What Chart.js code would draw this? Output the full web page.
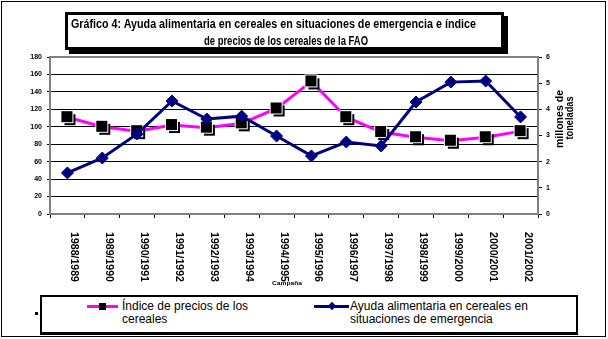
<!DOCTYPE html>
<html lang="es">
<head>
<meta charset="utf-8">
<script src="https://cdn.jsdelivr.net/npm/chart.js@4.4.0/dist/chart.umd.min.js"></script>
<style>
body { margin: 0; background: #fff; }
#wrap { position: relative; width: 608px; height: 339px; overflow: hidden; font-family: "Liberation Sans", Arial, sans-serif; color: #000; }
#myChart { position: absolute; left: 0; top: 0; }
#frame { position: absolute; left: 1px; top: 1px; width: 605px; height: 336px; border: 1px solid #000; box-sizing: border-box; }
#titleBox { position: absolute; left: 65px; top: 12px; width: 439px; height: 38px; border: 3px solid #000; box-sizing: border-box; box-shadow: 4px 4px 0 #000; background: #fff; }
.tl { position: absolute; white-space: nowrap; font-weight: bold; font-size: 12px; line-height: 14px; transform-origin: left center; }
#legendBox { position: absolute; left: 40px; top: 295px; width: 538px; height: 40px; border: 2px solid #000; border-bottom-width: 3px; box-sizing: border-box; background: #fff; }
.lg { position: absolute; font-size: 12px; line-height: 13px; white-space: nowrap; }
.key { position: absolute; }
</style>
</head>
<body>
<div id="wrap">
  <canvas id="myChart" width="608" height="339"></canvas>
  <div id="frame"></div>
  <div id="titleBox"></div>
  <div class="tl" style="left:71px; top:17px;" data-w="405">Gráfico 4: Ayuda alimentaria en cereales en situaciones de emergencia e índice</div>
  <div class="tl" style="left:204px; top:34px;" data-w="164">de precios de los cereales de la FAO</div>
  <div class="key" style="left:35px; top:312px; width:3px; height:3px; background:#000;"></div>
  <div id="legendBox"></div>
  <div class="key" style="left:87px; top:305px; width:31px; height:3px; background:#ff00ff;"></div>
  <div class="key" style="left:99px; top:303px; width:7px; height:7px; background:#000;"></div>
  <div class="lg" style="left:122px; top:300px;">Índice de precios de los<br>cereales</div>
  <div class="key" style="left:314px; top:305px; width:35px; height:3px; background:#000080;"></div>
  <div class="key" style="left:329px; top:303px; width:6px; height:6px; background:#000080; transform:rotate(45deg);"></div>
  <div class="lg" style="left:350px; top:300px;">Ayuda alimentaria en cereales en<br>situaciones de emergencia</div>
</div>
<script>
const ctx = document.getElementById('myChart');

// campañas (eje x)
const seasons = ['1988/1989', '1989/1990', '1990/1991', '1991/1992', '1992/1993', '1993/1994', '1994/1995',
                 '1995/1996', '1996/1997', '1997/1998', '1998/1999', '1999/2000', '2000/2001', '2001/2002'];

// Índice de precios de los cereales (eje izquierdo)
const precios = [111, 100, 95, 102, 99, 104, 121, 152, 111, 94, 88, 84, 88, 95];

// Ayuda alimentaria en cereales, millones de toneladas (eje derecho)
const ayuda = [1.57, 2.14, 3.06, 4.32, 3.63, 3.74, 2.98, 2.22, 2.75, 2.6, 4.28, 5.04, 5.08, 3.71];

const axisTitle = ['millones de', 'toneladas'];
const xTitle = 'Campaña';

// stretch the title lines to the width they have in the picture
document.querySelectorAll('.tl').forEach(function(el) {
    const w = el.getBoundingClientRect().width;
    el.style.transform = 'scaleX(' + (parseFloat(el.dataset.w) / w) + ')';
});

// square marker with a little drop shadow
function squareMarker() {
    const c = document.createElement('canvas');
    c.width = 22; c.height = 22;
    const g = c.getContext('2d');
    g.fillStyle = '#000';
    g.fillRect(8, 8, 11, 11);
    g.fillStyle = '#fff';
    g.fillRect(4, 4, 13, 13);
    g.fillStyle = '#000';
    g.fillRect(5, 5, 11, 11);
    return c;
}

function fitText(g, text, x, y, w) {
    const m = g.measureText(text).width;
    g.save();
    g.translate(x, y);
    g.scale(w / m, 1);
    g.fillText(text, 0, 0);
    g.restore();
}

const extras = {
    id: 'extras',
    afterDraw(chart) {
        const g = chart.ctx;
        const a = chart.chartArea;
        const x = chart.scales.x;
        g.save();
        // grey top edge of the plot area
        g.strokeStyle = '#808080';
        g.lineWidth = 2;
        g.beginPath();
        g.moveTo(a.left - 1, a.top);
        g.lineTo(a.right + 1, a.top);
        g.stroke();

        g.fillStyle = '#000';
        g.textBaseline = 'middle';
        // x labels, read top to bottom
        g.font = 'bold 11px "Liberation Sans"';
        g.textAlign = 'left';
        seasons.forEach(function(s, i) {
            const px = x.getPixelForValue(i) + 7;
            g.save();
            g.translate(px, a.bottom + 18);
            g.rotate(Math.PI / 2);
            fitText(g, s, 0, 0, 50);
            g.restore();
        });

        // right axis title, read bottom to top
        g.font = 'bold 11px "Liberation Sans"';
        g.textAlign = 'center';
        g.save();
        g.translate(560, 119);
        g.rotate(-Math.PI / 2);
        fitText(g, axisTitle[0], 0, 0, 58);
        g.restore();
        g.save();
        g.translate(570, 118);
        g.rotate(-Math.PI / 2);
        fitText(g, axisTitle[1], 0, 0, 43);
        g.restore();

        // tiny x axis title
        g.font = 'bold 6px "Liberation Sans"';
        fitText(g, xTitle, 287, 283, 30);
        g.restore();
    }
};

const tickFont = { family: 'Liberation Sans', size: 7, weight: 'bold' };

new Chart(ctx, {
    type: 'line',
    data: {
        labels: seasons,
        datasets: [
            {
                label: 'Ayuda alimentaria en cereales en situaciones de emergencia',
                data: ayuda,
                yAxisID: 'y1',
                borderColor: '#000080',
                backgroundColor: '#000080',
                borderWidth: 3,
                pointStyle: 'rectRot',
                pointRadius: 6,
                pointBorderWidth: 1,
                tension: 0
            },
            {
                label: 'Índice de precios de los cereales',
                data: precios,
                yAxisID: 'y',
                borderColor: '#ff00ff',
                backgroundColor: '#000',
                borderWidth: 3,
                pointStyle: squareMarker(),
                pointRadius: 6,
                tension: 0
            }
        ]
    },
    options: {
        responsive: false,
        animation: false,
        devicePixelRatio: 1,
        layout: { padding: { top: 57, left: 0, right: 0, bottom: 0 } },
        plugins: {
            legend: { display: false },
            tooltip: { enabled: false }
        },
        scales: {
            x: {
                offset: true,
                ticks: { display: false },
                grid: { offset: true, drawOnChartArea: false, drawTicks: true, tickLength: 4, color: '#000' },
                border: { color: '#808080', width: 2 },
                afterFit: function(s) { s.height = 125; }
            },
            y: {
                position: 'left',
                min: 0,
                max: 180,
                ticks: { stepSize: 20, font: tickFont, color: '#000', padding: 5 },
                grid: { color: '#000', lineWidth: 1, tickLength: 3 },
                border: { color: '#808080', width: 2 },
                afterFit: function(s) { s.width = 50; }
            },
            y1: {
                position: 'right',
                min: 0,
                max: 6,
                ticks: { stepSize: 1, font: tickFont, color: '#000', padding: 4 },
                grid: { drawOnChartArea: false, color: '#000', tickLength: 4 },
                border: { color: '#808080', width: 2 },
                afterFit: function(s) { s.width = 70; }
            }
        }
    },
    plugins: [extras]
});
</script>
</body>
</html>
